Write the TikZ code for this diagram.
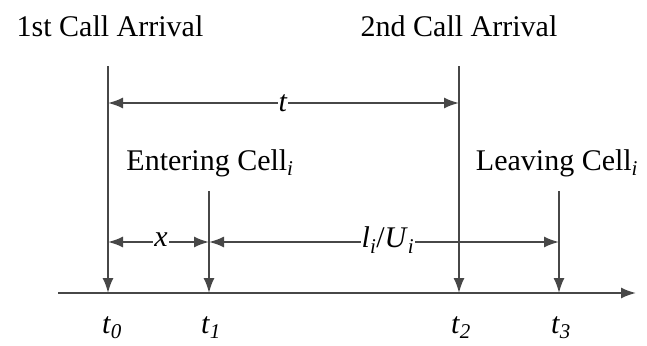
\documentclass[tikz,border=0pt]{standalone}
\usepackage{fontspec}
\setmainfont{Liberation Serif}
\usetikzlibrary{arrows.meta}
\newcommand{\sub}[1]{\textsubscript{\textit{#1}}}
\begin{document}
\begin{tikzpicture}[x=1pt,y=-1pt,
  ln/.style={draw=black!72,line width=1.8pt},
  tip/.style={-{Latex[length=15pt,width=11pt]}},
  tips/.style={{Latex[length=15pt,width=11pt]}-{Latex[length=15pt,width=11pt]}},
  lbl/.style={font=\fontsize{30}{34}\selectfont,inner sep=1pt,anchor=base},
  mid/.style={font=\fontsize{30}{34}\selectfont,fill=white,inner sep=1pt}]
\useasboundingbox (0,0) rectangle (647,345);
% axis
\coordinate (a0) at (58,293);
\coordinate (a1) at (636,293);
\draw[ln,tip] (a0) -- (a1);
% verticals
\coordinate (v0t) at (108,66);  \coordinate (v0b) at (108,293);
\coordinate (v1t) at (209,191); \coordinate (v1b) at (209,293);
\coordinate (v2t) at (459,66);  \coordinate (v2b) at (459,293);
\coordinate (v3t) at (559,191); \coordinate (v3b) at (559,293);
\draw[ln,tip] (v0t) -- (v0b);
\draw[ln,tip] (v1t) -- (v1b);
\draw[ln,tip] (v2t) -- (v2b);
\draw[ln,tip] (v3t) -- (v3b);
% span arrows
\coordinate (s0) at (108,103); \coordinate (s2) at (459,103);
\draw[ln,tips] (s0) -- (s2);
\node[mid] (lt) at (283,103) {\textit{t}};
\coordinate (x0) at (108,242); \coordinate (x1) at (209,242);
\draw[ln,tips] (x0) -- (x1);
\node[mid] (lx) at (161,240) {\textit{x}};
\coordinate (u3) at (559,242);
\draw[ln,tips] (x1) -- (u3);
\node[mid] (lu) at (388,240) {\textit{l}\sub{i}/\textit{U}\sub{i}};
% labels
\node[lbl] (c1) at (110,37) {1st Call Arrival};
\node[lbl] (c2) at (459,37) {2nd Call Arrival};
\node[lbl] (e1) at (210,170) {Entering Cell\sub{i}};
\node[lbl] (e2) at (557,170) {Leaving Cell\sub{i}};
\node[lbl] (t0) at (112,333) {\textit{t}\sub{0}};
\node[lbl] (t1) at (211,333) {\textit{t}\sub{1}};
\node[lbl] (t2) at (461,333) {\textit{t}\sub{2}};
\node[lbl] (t3) at (561,333) {\textit{t}\sub{3}};
\end{tikzpicture}
\end{document}
